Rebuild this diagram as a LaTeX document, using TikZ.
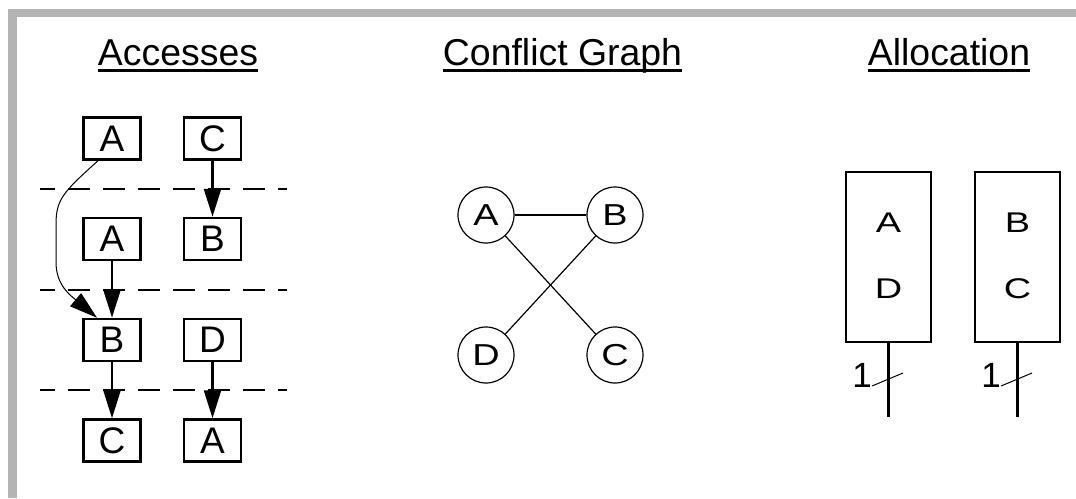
\documentclass[tikz,border=0pt]{standalone}
\usepackage{fontspec}
\setmainfont{Liberation Sans}
\usetikzlibrary{arrows.meta}
\definecolor{bandgray}{RGB}{180,180,180}
\newcommand{\circtxt}[1]{\scalebox{1.25}[1]{#1}}
\newcommand{\regstretch}[1]{\scalebox{1.33}[1]{#1}}
\tikzset{
  ttl/.style={inner sep=0pt, anchor=base, font=\fontsize{37.4}{40}\selectfont},
  uline/.style={line width=3pt},
  accbox/.style={draw, line width=2.5pt, minimum width=57pt, minimum height=42pt, inner sep=0pt, font=\fontsize{37}{40}\selectfont},
  sep/.style={line width=2.5pt, dash pattern=on 22pt off 13pt, dash phase=7pt},
  flow/.style={line width=2.5pt, -{Triangle[length=28pt,width=17pt]}},
  thinflow/.style={line width=1pt, -{Triangle[length=28pt,width=17pt]}},
  cnode/.style={draw, circle, line width=1.2pt, minimum size=56pt, inner sep=0pt, font=\fontsize{30.3}{32}\selectfont},
  cedge/.style={line width=1.2pt},
  regbox/.style={draw, line width=2.5pt, minimum width=85pt, minimum height=170pt, inner sep=0pt},
  regtxt/.style={inner sep=0pt, anchor=base, font=\fontsize{28.5}{30}\selectfont},
  wire/.style={line width=2.5pt},
  bus/.style={line width=1pt},
  widthlbl/.style={inner sep=0pt, anchor=base, font=\fontsize{35}{36}\selectfont}
}
\begin{document}
\begin{tikzpicture}[x=1pt,y=-1pt]
\useasboundingbox (0,0) rectangle (1076,498);
% gray frame
\fill[bandgray] (8,9) rectangle (1076,17);
\fill[bandgray] (8,9) rectangle (17,498);

% titles
\node[ttl] (t1) at (178,65) {Accesses};
\node[ttl] (t2) at (562.5,65) {Conflict Graph};
\node[ttl] (t3) at (949,65) {Allocation};
\foreach \t in {t1,t2,t3}
  \draw[uline] ([yshift=-5pt]\t.base west) -- ([yshift=-5pt]\t.base east);

% accesses
\coordinate (d1l) at (40,189);  \coordinate (d1r) at (287,189);
\coordinate (d2l) at (40,290);  \coordinate (d2r) at (287,290);
\coordinate (d3l) at (40,390);  \coordinate (d3r) at (287,390);
\draw[sep] (d1l) -- (d1r);
\draw[sep] (d2l) -- (d2r);
\draw[sep] (d3l) -- (d3r);

\node[accbox] (a1) at (112,138.5) {A};
\node[accbox] (c1) at (212.5,138.5) {C};
\node[accbox] (a2) at (112,239) {A};
\node[accbox] (b2) at (212.5,239) {B};
\node[accbox] (b3) at (112,340) {B};
\node[accbox] (d3) at (212.5,340) {D};
\node[accbox] (c4) at (112,440.5) {C};
\node[accbox] (a4) at (212.5,440.5) {A};

\draw[flow] (c1.south) -- (b2.north);
\draw[flow] (a2.south) -- (b3.north);
\draw[flow] (b3.south) -- (c4.north);
\draw[flow] (d3.south) -- (a4.north);
\draw[thinflow] ([xshift=-14pt]a1.south) .. controls (62,193) and (56,200) .. (56,225)
  -- (56,262) .. controls (56,285) and (70,295) .. ([xshift=-15pt]b3.north);

% conflict graph
\node[cnode] (gA) at (486,215) {\circtxt{A}};
\node[cnode] (gB) at (615,215) {\circtxt{B}};
\node[cnode] (gD) at (486,355) {\circtxt{D}};
\node[cnode] (gC) at (615,355) {\circtxt{C}};
\draw[line width=1.8pt] (gA) -- (gB);
\draw[cedge] (gA) -- (gC);
\draw[cedge] (gB) -- (gD);

% allocation
\node[regbox] (r1) at (888.5,257) {};
\node[regbox] (r2) at (1017.5,257) {};
\node[regtxt] (r1a) at (888.5,232) {\regstretch{A}};
\node[regtxt] (r1d) at (888.5,298) {\regstretch{D}};
\node[regtxt] (r2b) at (1017.5,232) {\regstretch{B}};
\node[regtxt] (r2c) at (1017.5,298) {\regstretch{C}};
\coordinate (w1) at (888.5,417);
\coordinate (w2) at (1017.5,417);
\draw[wire] (r1.south) -- (w1);
\draw[wire] (r2.south) -- (w2);
\coordinate (s1a) at (872,386); \coordinate (s1b) at (903,373);
\coordinate (s2a) at (1001,386); \coordinate (s2b) at (1032,373);
\draw[bus] (s1a) -- (s1b);
\draw[bus] (s2a) -- (s2b);
\node[widthlbl] (n1) at (862,387) {1};
\node[widthlbl] (n2) at (991,387) {1};
\end{tikzpicture}
\end{document}
